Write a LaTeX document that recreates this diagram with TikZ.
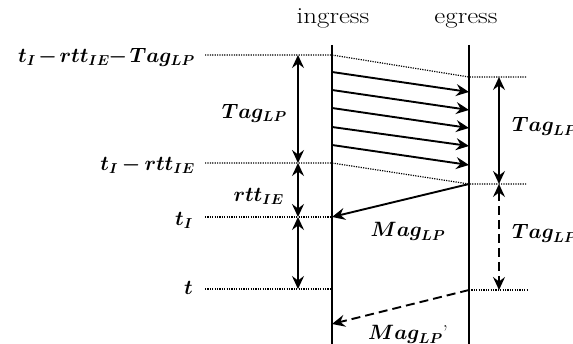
\documentclass[tikz,border=0pt]{standalone}
\usepackage{amsmath}
\usetikzlibrary{arrows.meta}
\begin{document}
\begin{tikzpicture}[x=1pt,y=-1pt,
  lbl/.style={inner sep=0pt,font=\fontsize{20}{24}\selectfont},
  hdr/.style={inner sep=0pt,font=\fontsize{23}{27}\selectfont},
  tl/.style={line width=1.2pt,dash pattern=on 1.2pt off 1.2pt},
  ax/.style={line width=1.7pt},
  msg/.style={line width=1.9pt,-{Stealth[length=13pt,width=12pt,inset=4.5pt]}},
  dbl/.style={line width=1.9pt,{Stealth[length=13pt,width=12pt,inset=4.5pt]}-{Stealth[length=13pt,width=12pt,inset=4.5pt]}},
  dsh/.style={dash pattern=on 9pt off 5pt}]
\useasboundingbox (0,0) rectangle (573,344);
% axes
\coordinate (itop) at (332,45); \coordinate (ibot) at (332,344);
\coordinate (etop) at (469,45); \coordinate (ebot) at (469,344);
\draw[ax] (itop) -- (ibot);
\draw[ax] (etop) -- (ebot);
\node[hdr,anchor=base] (ing) at (333,24) {\scalebox{1.17}[1]{ingress}};
\node[hdr,anchor=base] (egr) at (466,24) {\scalebox{1.17}[1]{egress}};
% time marks on ingress
\coordinate (a0) at (205,55);  \coordinate (a1) at (332,55);
\coordinate (b0) at (205,163); \coordinate (b1) at (332,163);
\coordinate (c0) at (205,217); \coordinate (c1) at (332,217);
\coordinate (d0) at (205,289); \coordinate (d1) at (332,289);
% time marks on egress
\coordinate (e1) at (469,77);  \coordinate (e2) at (527,77);
\coordinate (f1) at (469,184); \coordinate (f2) at (527,184);
\coordinate (g1) at (469,290); \coordinate (g2) at (527,290);
\draw[tl] (a0) -- (a1) -- (e1) -- (e2);
\draw[tl] (b0) -- (b1) -- (f1) -- (f2);
\draw[tl] (c0) -- (c1);
\draw[tl] (d0) -- (d1);
\draw[tl] (g1) -- (g2);
% tag messages
\foreach \k/\ys/\ye in {1/72/92,2/90/110,3/108/128,4/127/146,5/145/165}{
  \coordinate (s\k) at (332,\ys); \coordinate (t\k) at (469,\ye);
  \draw[msg] (s\k) -- (t\k);
}
% mag messages
\coordinate (m1) at (332,217);
\draw[msg] (f1) -- (m1);
\coordinate (m2) at (332,324);
\draw[msg,dsh] (g1) -- (m2);
% left double arrows
\coordinate (la) at (298,55); \coordinate (lb) at (298,163);
\coordinate (lc) at (298,217); \coordinate (ld) at (298,289);
\draw[dbl] (la) -- (lb);
\draw[dbl] (lb) -- (lc);
\draw[dbl] (lc) -- (ld);
% right double arrows
\coordinate (ra) at (499,77); \coordinate (rb) at (499,184); \coordinate (rc) at (499,290);
\draw[dbl] (ra) -- (rb);
\draw[dbl,dsh] (rb) -- (rc);
% labels
\node[lbl,anchor=east] (L1) at (195,57) {\medmuskip=2mu $\boldsymbol{t_I - rtt_{IE}\!- Tag_{LP}}$};
\node[lbl,anchor=east] (L2) at (287,113) {$\boldsymbol{Tag_{LP}}$};
\node[lbl,anchor=east] (L3) at (195,165) {\medmuskip=3mu $\boldsymbol{t_I - rtt_{IE}}$};
\node[lbl,anchor=east] (L4) at (284,196) {$\boldsymbol{rtt_{IE}}$};
\node[lbl,anchor=east] (L5) at (193,220) {$\boldsymbol{t_I}$};
\node[lbl,anchor=east] (L6) at (193,288) {$\boldsymbol{t}$};
\node[lbl,anchor=base west] (R1) at (512,132) {$\boldsymbol{Tag_{LP}}$};
\node[lbl,anchor=base west] (R2) at (512,239) {$\boldsymbol{Tag_{LP}}$};
\node[lbl,anchor=base] (M1) at (408,237) {$\boldsymbol{Mag_{LP}}$};
\node[lbl,anchor=base] (M2) at (408,340) {$\boldsymbol{Mag_{LP}}$'};
\end{tikzpicture}
\end{document}
